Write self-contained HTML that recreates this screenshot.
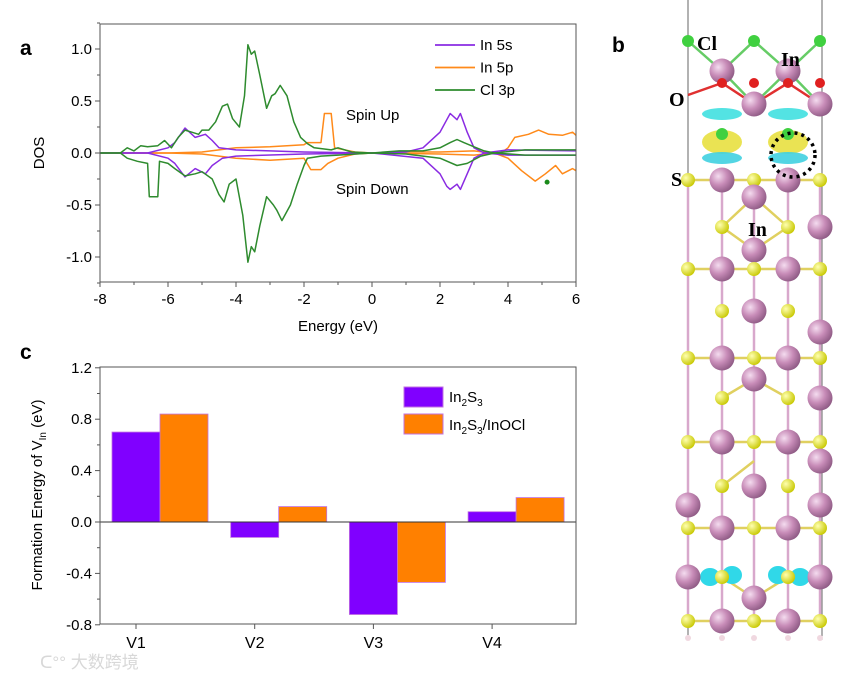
<!DOCTYPE html>
<html><head><meta charset="utf-8"><style>
html,body{margin:0;padding:0;background:#fff;}
svg{display:block;font-family:"Liberation Sans",Arial,sans-serif;}
</style></head><body>
<svg id="fig" width="865" height="681" viewBox="0 0 865 681" xmlns="http://www.w3.org/2000/svg">
<g id="panelA"></g>
<g id="panelC"></g>
<g id="panelB"></g>
<text x="40" y="668" font-family="'Liberation Sans','Noto Sans CJK SC',sans-serif" font-size="17" fill="#d8d8d8">ᑕ°° 大数跨境</text>
</svg>
<script>
// ---------- Panel a data ----------
const clUpE=[-8,-7.4,-7.2,-7,-6.8,-6.6,-6.3,-6.1,-5.9,-5.7,-5.5,-5.3,-5.1,-5,-4.8,-4.6,-4.4,-4.25,-4.1,-3.9,-3.75,-3.65,-3.55,-3.45,-3.3,-3.1,-2.95,-2.85,-2.7,-2.5,-2.3,-2.1,-1.9,-1.7,-1.2,-1,-0.6,0,0.8,1.5,2,2.3,2.5,2.7,3,3.3,3.6,4.5,5,5.5,6];
const clUpV=[0,0,0.05,0.02,0.07,0.06,0.07,0.12,0.05,0.15,0.22,0.2,0.18,0.22,0.22,0.3,0.45,0.47,0.33,0.25,0.55,1.04,0.95,0.98,0.75,0.43,0.55,0.57,0.65,0.55,0.3,0.15,0.09,0.05,0.03,0.05,0.01,0,0.02,0.02,0.05,0.1,0.13,0.1,0.06,0.02,0,0.03,0.03,0.03,0.03];
const clDnE=[-8,-7.4,-7.2,-6.9,-6.6,-6.55,-6.3,-6.25,-6,-5.8,-5.5,-5.2,-5,-4.7,-4.5,-4.35,-4.2,-4,-3.8,-3.65,-3.55,-3.45,-3.3,-3.1,-2.9,-2.8,-2.65,-2.4,-2.2,-2,-1.9,-1.5,-1,0,1,2,2.5,2.8,3.2,3.6,4.5,6];
const clDnV=[0,0,-0.05,-0.08,-0.1,-0.42,-0.42,-0.08,-0.1,-0.15,-0.22,-0.2,-0.18,-0.25,-0.4,-0.47,-0.3,-0.25,-0.6,-1.05,-0.9,-0.95,-0.7,-0.42,-0.5,-0.55,-0.65,-0.5,-0.3,-0.12,-0.05,-0.03,-0.02,0,-0.01,-0.05,-0.12,-0.1,-0.03,0,-0.02,-0.02];
const pUpE=[-8,-6,-5,-4,-3,-2,-1.9,-1.5,-1.4,-1.2,-1.1,-0.5,0,1,2,3,3.5,3.8,4,4.2,4.6,4.9,5.2,5.6,5.9,6];
const pUpV=[0,0,0.01,0.05,0.06,0.08,0.1,0.1,0.38,0.38,0.05,0.01,0,0.01,0.01,0.02,0,0,0.05,0.15,0.18,0.22,0.18,0.17,0.2,0.17];
const pDnE=[-8,-6,-5,-4,-3,-2,-1.8,-1.5,-1.3,-1,-0.5,0,2,3,3.6,4,4.4,4.8,5.1,5.4,5.6,5.9,6];
const pDnV=[0,0,-0.01,-0.05,-0.07,-0.05,-0.16,-0.16,-0.1,-0.05,-0.01,0,-0.01,-0.02,0,-0.05,-0.17,-0.27,-0.2,-0.12,-0.2,-0.15,-0.17];
const sUpE=[-8,-6.6,-6,-5.8,-5.5,-5.2,-4.9,-4.7,-4.5,-4,-3,-2,0,1,1.5,2,2.2,2.3,2.5,2.6,2.8,3,3.3,4,6];
const sUpV=[0,0,0.05,0.1,0.24,0.15,0.18,0.12,0.05,0.03,0.02,0.01,0,0.01,0.05,0.2,0.32,0.38,0.32,0.38,0.2,0.05,0,0.03,0.02];
const sDnE=[-8,-6.6,-6,-5.8,-5.5,-5.2,-4.9,-4.7,-4.4,-4,-2,0,1.5,2,2.2,2.3,2.5,2.6,2.8,3,3.3,4,6];
const sDnV=[0,0,-0.05,-0.1,-0.23,-0.15,-0.2,-0.12,-0.05,-0.03,-0.01,0,-0.05,-0.2,-0.32,-0.35,-0.3,-0.35,-0.2,-0.05,0,-0.02,-0.02];
const xTicksA=[-8,-6,-4,-2,0,2,4,6];
const yTicksA=[1.0,0.5,0.0,-0.5,-1.0];
const legendA=["In 5s","In 5p","Cl 3p"];
// ---------- Panel c data ----------
const sites=["V1","V2","V3","V4"];
const in2s3=[0.70,-0.12,-0.72,0.08];
const hetero=[0.84,0.12,-0.47,0.19];
const yTicksC=[1.2,0.8,0.4,0.0,-0.4,-0.8];

const NS="http://www.w3.org/2000/svg";
function mk(tag,attrs,parent,txt){const e=document.createElementNS(NS,tag);for(const k in attrs)e.setAttribute(k,attrs[k]);if(txt!==undefined)e.textContent=txt;parent.appendChild(e);return e;}

// ----- Panel A -----
const A=document.getElementById('panelA');
const ax0=100,ax1=576,ay0=24,ay1=282;
const xA=e=>ax0+(e+8)/14*(ax1-ax0);
const yA=v=>153-v*104;
let t=mk('text',{x:20,y:55,'font-size':21,'font-weight':'bold'},A,'a');


function path(E,V,col,name){let d=E.map((e,i)=>(i?'L':'M')+xA(e).toFixed(1)+','+yA(V[i]).toFixed(1)).join('');
 const p=mk('path',{d:d,fill:'none',stroke:col,'stroke-width':1.5,'stroke-linejoin':'round'},A);
 
 }
path(pUpE,pUpV,'#ff8a1a','in5p-spin-up');path(pDnE,pDnV,'#ff8a1a','in5p-spin-down');
path(sUpE,sUpV,'#8a2be2','in5s-spin-up');path(sDnE,sDnV,'#8a2be2','in5s-spin-down');
path(clUpE,clUpV,'#2e8b2e','cl3p-spin-up');path(clDnE,clDnV,'#2e8b2e','cl3p-spin-down');
let dot=mk('circle',{cx:xA(5.15),cy:yA(-0.28),r:2.5,fill:'#1a8a1a'},A);


let fr=mk('rect',{x:ax0,y:ay0,width:ax1-ax0,height:ay1-ay0,fill:'none',stroke:'#555','stroke-width':1},A);


for(let e=-8;e<=6;e+=1){const x=xA(e);mk('line',{x1:x,x2:x,y1:ay1,y2:ay1+(e%2===0?5:3),stroke:'#555'},A);}
xTicksA.forEach(e=>{const tt=mk('text',{x:xA(e),y:ay1+22,'font-size':15,'text-anchor':'middle'},A,String(e));
 
 });
for(let v=-1.25;v<=1.25;v+=0.25){const y=yA(v);mk('line',{x1:ax0,x2:ax0-(Math.abs(v*2-Math.round(v*2))<1e-6?5:3),y1:y,y2:y,stroke:'#555'},A);}
yTicksA.forEach(v=>{const tt=mk('text',{x:ax0-8,y:yA(v)+5,'font-size':15,'text-anchor':'end'},A,v.toFixed(1));
 
 });
t=mk('text',{x:338,y:331,'font-size':15,'text-anchor':'middle'},A,'Energy (eV)');


t=mk('text',{x:0,y:0,'font-size':15,'text-anchor':'middle',transform:'translate(44,153) rotate(-90)'},A,'DOS');


t=mk('text',{x:346,y:120,'font-size':15},A,'Spin Up');


t=mk('text',{x:336,y:194,'font-size':15},A,'Spin Down');


const legCols=['#8a2be2','#ff8a1a','#2e8b2e'];
legendA.forEach((s,i)=>{const y=45+i*22.5;
 const l=mk('line',{x1:435,x2:475,y1:y,y2:y,stroke:legCols[i],'stroke-width':1.8},A);
 
 
 const tt=mk('text',{x:480,y:y+5,'font-size':15},A,s);
 
 });

// ----- Panel C -----
const C=document.getElementById('panelC');
const cx0=100,cx1=576,cy0=367,cy1=624;
const yC=v=>522-v*(cy1-cy0)/2.0;
const xC=i=>136+i*118.7;
t=mk('text',{x:20,y:359,'font-size':21,'font-weight':'bold'},C,'c');


sites.forEach((s,i)=>{
 const b1=mk('rect',{x:xC(i)-24,y:Math.min(yC(in2s3[i]),yC(0)),width:48,height:Math.abs(yC(in2s3[i])-yC(0)),fill:'#8000ff',stroke:'#c070e0','stroke-width':0.8},C);
 
 
 const b2=mk('rect',{x:xC(i)+24,y:Math.min(yC(hetero[i]),yC(0)),width:48,height:Math.abs(yC(hetero[i])-yC(0)),fill:'#ff8000',stroke:'#c070e0','stroke-width':0.8},C);
 
 
 mk('line',{x1:xC(i),x2:xC(i),y1:cy1,y2:cy1+5,stroke:'#555'},C);
 const tt=mk('text',{x:xC(i),y:cy1+24,'font-size':16,'text-anchor':'middle'},C,s);
 
 });
const zl=mk('line',{x1:cx0,x2:cx1,y1:yC(0),y2:yC(0),stroke:'#333'},C);


fr=mk('rect',{x:cx0,y:cy0,width:cx1-cx0,height:cy1-cy0,fill:'none',stroke:'#555'},C);


for(let k=0;k<=10;k++){const v=1.2-k*0.2;const y=yC(v);mk('line',{x1:cx0,x2:cx0-(k%2===0?5:3),y1:y,y2:y,stroke:'#555'},C);}
yTicksC.forEach(v=>{const tt=mk('text',{x:cx0-8,y:yC(v)+5,'font-size':15,'text-anchor':'end'},C,v.toFixed(1));
 
 });
t=mk('text',{x:0,y:0,'font-size':15,'text-anchor':'middle',transform:'translate(42,495) rotate(-90)'},C);


t.innerHTML='Formation Energy of V<tspan font-size="10" dy="4">In</tspan><tspan dy="-4"> (eV)</tspan>';
let sw=mk('rect',{x:404,y:387,width:39,height:20,fill:'#8000ff',stroke:'#c070e0'},C);


sw=mk('rect',{x:404,y:414,width:39,height:20,fill:'#ff8000',stroke:'#c070e0'},C);


t=mk('text',{x:449,y:402,'font-size':15},C);


t.innerHTML='In<tspan font-size="10" dy="4">2</tspan><tspan dy="-4">S</tspan><tspan font-size="10" dy="4">3</tspan>';
t=mk('text',{x:449,y:430,'font-size':15},C);


t.innerHTML='In<tspan font-size="10" dy="4">2</tspan><tspan dy="-4">S</tspan><tspan font-size="10" dy="4">3</tspan><tspan dy="-4">/InOCl</tspan>';

// ----- Panel B (structure illustration) -----
const B=document.getElementById('panelB');
const defs=mk('defs',{},B);
const g1=mk('radialGradient',{id:'gIn',cx:'0.35',cy:'0.35',r:'0.7'},defs);
mk('stop',{offset:'0','stop-color':'#f4dcef'},g1);mk('stop',{offset:'0.5','stop-color':'#c88cb8'},g1);mk('stop',{offset:'1','stop-color':'#8e5a84'},g1);
const g2=mk('radialGradient',{id:'gS',cx:'0.35',cy:'0.35',r:'0.7'},defs);
mk('stop',{offset:'0','stop-color':'#ffffb0'},g2);mk('stop',{offset:'1','stop-color':'#c8c800'},g2);
mk('line',{x1:688,x2:688,y1:0,y2:640,stroke:'#666'},B);
mk('line',{x1:822,x2:822,y1:0,y2:640,stroke:'#666'},B);
const X=[688,722,754,788,820];
const rows=[[41,'Cl',[0,2,4]],[71,'In',[1,3]],[83,'O',[1,2,3,4]],[104,'In',[2,4]],[134,'Cl',[1,3]],[180,'S',[0,2,4]],[180,'In',[1,3]],[197,'In',[2]],[227,'S',[1,3]],[227,'In',[4]],[250,'In',[2]],[269,'S',[0,2,4]],[269,'In',[1,3]],[311,'S',[1,3]],[311,'In',[2]],[332,'In',[4]],[358,'S',[0,2,4]],[358,'In',[1,3]],[379,'In',[2]],[398,'S',[1,3]],[398,'In',[4]],[442,'S',[0,2,4]],[442,'In',[1,3]],[461,'In',[4]],[486,'S',[1,3]],[486,'In',[2]],[505,'In',[0,4]],[528,'S',[0,2,4]],[528,'In',[1,3]],[577,'In',[0,4]],[577,'S',[1,3]],[598,'In',[2]],[621,'S',[0,2,4]],[621,'In',[1,3]],[638,'H',[0,1,2,3,4]]];
const bondG=mk('g',{stroke:'#d8a8cc','stroke-width':2.5},B);
[[180,227],[227,269],[269,311],[311,358],[358,398],[398,442],[442,486],[486,528],[528,577],[577,621]].forEach(p=>{
 [0,1,2,3,4].forEach(i=>mk('line',{x1:X[i],x2:X[i],y1:p[0],y2:p[1]},bondG));});
[180,269,358,442,528,621].forEach(y=>mk('line',{x1:X[0],x2:X[4],y1:y,y2:y,stroke:'#e0d060'},bondG));
mk('path',{d:'M722,227L754,197L788,227 M722,227L754,250L788,227 M722,398L754,379L788,398 M722,486L754,461 M722,577L754,598L788,577',stroke:'#e0d060',fill:'none'},bondG);
mk('path',{d:'M688,41L722,71L754,41L788,71L820,41 M722,71L754,104L788,71L820,104',stroke:'#6c6',fill:'none'},bondG);
mk('path',{d:'M688,95L722,83L754,104L788,83L820,104',stroke:'#e03030',fill:'none'},bondG);
[[722,114,'#40e0e0'],[788,114,'#40e0e0'],[722,142,'#e8e040'],[788,142,'#e8e040'],[722,158,'#40d0e0'],[788,158,'#40d0e0']].forEach(c=>{
 const e=mk('ellipse',{cx:c[0],cy:c[1],rx:20,ry:c[2]==='#e8e040'?12:6,fill:c[2],opacity:0.9},B);
 
 });
[[710,577],[732,575],[778,575],[800,577]].forEach(c=>mk('ellipse',{cx:c[0],cy:c[1],rx:10,ry:9,fill:'#30d8e8'},B));
const col={Cl:['#40d040',6],In:['url(#gIn)',12.5],O:['#e02020',5],S:['url(#gS)',7],H:['#f0d8e0',3]};
rows.forEach(r=>r[2].forEach(i=>{const c=mk('circle',{cx:X[i],cy:r[0],r:col[r[1]][1],fill:col[r[1]][0]},B);
 
 }));
const ring=mk('circle',{cx:793,cy:155,r:22,fill:'none',stroke:'#000','stroke-width':3.5,'stroke-dasharray':'3,4'},B);


t=mk('text',{x:612,y:52,'font-size':21,'font-weight':'bold'},B,'b');


[['Cl',697,50],['In',781,66],['O',669,106],['S',671,186],['In',748,236]].forEach(l=>{
 const tt=mk('text',{x:l[1],y:l[2],'font-size':20,'font-weight':'bold','font-family':'"Liberation Serif",serif'},B,l[0]);
 
 });
</script>
</body></html>
